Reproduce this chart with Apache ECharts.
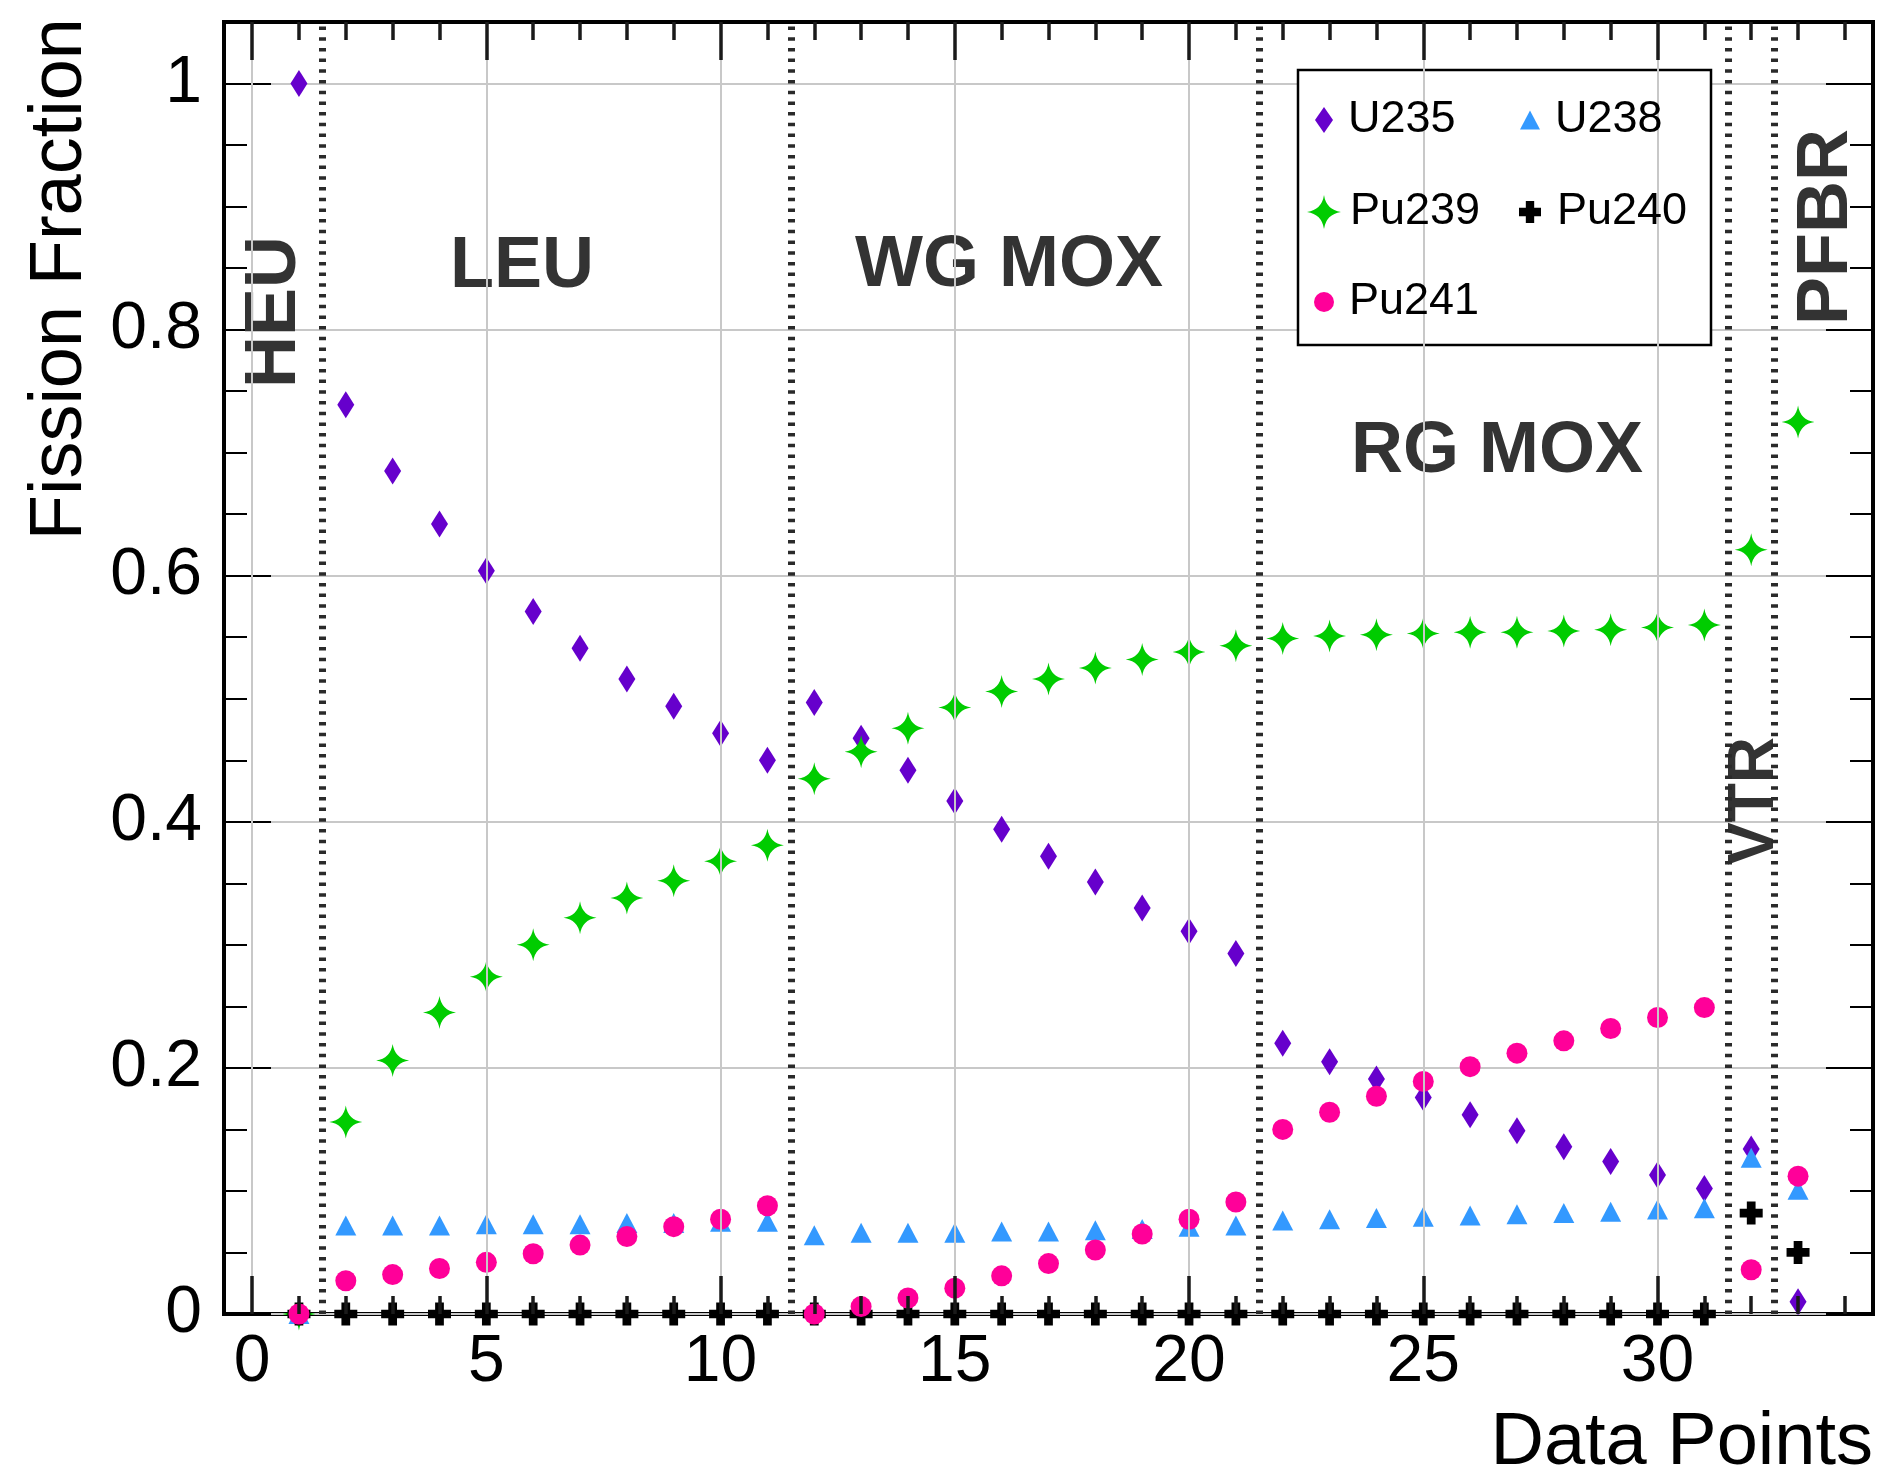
<!DOCTYPE html>
<html>
<head>
<meta charset="utf-8">
<title>Fission Fraction vs Data Points</title>
<script src="https://cdn.jsdelivr.net/npm/echarts@6/dist/echarts.min.js"></script>
<style>
html, body { margin: 0; padding: 0; background: #fff; }
#chart { width: 1880px; height: 1478px; }
</style>
</head>
<body>
<div id="chart"></div>
<script>
// data points 1..33 (HEU, LEU, WG MOX, RG MOX, VTR, PFBR)
const dataPoints = [1, 2, 3, 4, 5, 6, 7, 8, 9, 10, 11, 12, 13, 14, 15, 16, 17,
  18, 19, 20, 21, 22, 23, 24, 25, 26, 27, 28, 29, 30, 31, 32, 33];

const u235 = [1.000, 0.739, 0.685, 0.642, 0.604, 0.571, 0.541, 0.516, 0.494, 0.472, 0.450,
  0.497, 0.468, 0.442, 0.417, 0.394, 0.372, 0.351, 0.330, 0.311, 0.293,
  0.220, 0.205, 0.191, 0.176, 0.162, 0.149, 0.136, 0.124, 0.113, 0.102,
  0.134, 0.010];
const u238 = [0.000, 0.072, 0.072, 0.072, 0.073, 0.073, 0.073, 0.074, 0.074, 0.075, 0.075,
  0.064, 0.066, 0.066, 0.066, 0.067, 0.067, 0.068, 0.069, 0.071, 0.072,
  0.076, 0.077, 0.078, 0.079, 0.080, 0.081, 0.082, 0.083, 0.085, 0.086,
  0.127, 0.101];
const pu239 = [0.000, 0.156, 0.206, 0.245, 0.274, 0.300, 0.322, 0.338, 0.352, 0.368, 0.381,
  0.435, 0.457, 0.476, 0.493, 0.506, 0.516, 0.525, 0.532, 0.538, 0.543,
  0.549, 0.551, 0.552, 0.553, 0.554, 0.554, 0.555, 0.556, 0.558, 0.560,
  0.621, 0.725];
const pu240 = [0, 0, 0, 0, 0, 0, 0, 0, 0, 0, 0,
  0, 0, 0, 0, 0, 0, 0, 0, 0, 0,
  0, 0, 0, 0, 0, 0, 0, 0, 0, 0,
  0.082, 0.050];
const pu241 = [0.000, 0.027, 0.032, 0.037, 0.042, 0.049, 0.056, 0.063, 0.071, 0.077, 0.088,
  0.000, 0.006, 0.013, 0.021, 0.031, 0.041, 0.052, 0.065, 0.077, 0.091,
  0.150, 0.164, 0.177, 0.189, 0.201, 0.212, 0.222, 0.232, 0.241, 0.249,
  0.036, 0.112];

// dotted separators between reactor groups
const boundaries = [1.5, 11.5, 21.5, 31.5, 32.5];

// tick labels
const xMajorTicks = [0, 5, 10, 15, 20, 25, 30];
const xMinorTicks = [1, 2, 3, 4, 6, 7, 8, 9, 11, 12, 13, 14, 16, 17, 18, 19,
  21, 22, 23, 24, 26, 27, 28, 29, 31, 32, 33, 34];
const yMajorTicks = [0, 0.2, 0.4, 0.6, 0.8, 1];
const yMinorTicks = [0.05, 0.1, 0.15, 0.25, 0.3, 0.35, 0.45, 0.5, 0.55,
  0.65, 0.7, 0.75, 0.85, 0.9, 0.95];

const FONT = "'Liberation Sans', Arial, Helvetica, sans-serif";
const STAR = 'path://M0,-10 Q1.3,-1.3 10,0 Q1.3,1.3 0,10 Q-1.3,1.3 -10,0 Q-1.3,-1.3 0,-10 Z';
const CROSS = 'path://M-3.8,-10 L3.8,-10 L3.8,-3.8 L10,-3.8 L10,3.8 L3.8,3.8 L3.8,10 L-3.8,10 L-3.8,3.8 L-10,3.8 L-10,-3.8 L-3.8,-3.8 Z';

function pairs(vals) {
  return dataPoints.map(function (x, i) { return [x, vals[i]]; });
}

// ROOT style frame: ticks drawn inside on all four sides
function xAxisDef(pos, ticks, len, main) {
  return {
    type: 'value', position: pos, min: -0.6, max: 34.6, z: 8,
    axisLine: { show: false, onZero: false },
    axisTick: { show: true, inside: true, length: len, customValues: ticks,
      lineStyle: { color: '#1a1a1a', width: 3.5 } },
    axisLabel: main ? { show: true, customValues: ticks, fontSize: 66, color: '#000',
      fontFamily: FONT, margin: 16 } : { show: false },
    splitLine: main ? { show: true, lineStyle: { color: '#c8c8c8', width: 2 } } : { show: false }
  };
}
function yAxisDef(pos, ticks, len, main) {
  return {
    type: 'value', position: pos, min: 0, max: 1.05,
    axisLine: { show: false, onZero: false },
    axisTick: { show: true, inside: true, length: len, customValues: ticks,
      lineStyle: { color: '#000', width: 2 } },
    axisLabel: main ? { show: true, customValues: ticks, fontSize: 66, color: '#000',
      fontFamily: FONT, margin: 22 } : { show: false },
    splitLine: main ? { show: true, lineStyle: { color: '#c8c8c8', width: 2 } } : { show: false }
  };
}

function legendItem(name, icon, left, top, w, h, pad) {
  return {
    show: true, orient: 'horizontal', left: left, top: top, padding: 0,
    itemWidth: w, itemHeight: h, selectedMode: false, symbolKeepAspect: false, z: 10,
    data: [{ name: name, icon: icon }],
    textStyle: { fontSize: 45, color: '#000', fontFamily: FONT, lineHeight: 50,
      padding: [0, 0, 0, pad] }
  };
}

function regionText(txt, x, y, rot, size) {
  return {
    type: 'text', x: x, y: y, rotation: rot ? Math.PI / 2 : 0, z: 3, silent: true,
    style: { text: txt, fontSize: size || 72, fontWeight: 'bold', fontFamily: FONT,
      fill: '#333', align: 'center', verticalAlign: 'middle' }
  };
}

var myChart = echarts.init(document.getElementById('chart'), null, { renderer: 'canvas' });
var option = {
  backgroundColor: '#fff',
  animation: false,
  grid: { left: 224, top: 22, width: 1649, height: 1292, show: true,
    borderColor: '#000', borderWidth: 4, backgroundColor: 'transparent' },
  xAxis: [
    xAxisDef('bottom', xMajorTicks, 38, true),
    xAxisDef('top', xMajorTicks, 38, false),
    xAxisDef('bottom', xMinorTicks, 18, false),
    xAxisDef('top', xMinorTicks, 18, false)
  ],
  yAxis: [
    yAxisDef('left', yMajorTicks, 47, true),
    yAxisDef('right', yMajorTicks, 47, false),
    yAxisDef('left', yMinorTicks, 23, false),
    yAxisDef('right', yMinorTicks, 23, false)
  ],
  legend: [
    legendItem('U235', 'diamond', 1315, 95, 18, 26, 10),
    legendItem('Pu239', STAR, 1307, 187, 34, 34, 4),
    legendItem('Pu241', 'circle', 1314, 277, 20, 20, 10),
    legendItem('U238', 'triangle', 1520, 95, 20, 19, 10),
    legendItem('Pu240', CROSS, 1519, 187, 22, 22, 11)
  ],
  graphic: [
    { type: 'rect', z: 3, silent: true,
      shape: { x: 1298, y: 70, width: 413, height: 275 },
      style: { fill: '#fff', stroke: '#000', lineWidth: 2.5 } },
    regionText('HEU', 275, 312, true),
    regionText('LEU', 522, 267, false),
    regionText('WG MOX', 1009, 266, false),
    regionText('RG MOX', 1497, 452, false),
    regionText('VTR', 1755, 801, true, 64),
    regionText('PFBR', 1827, 227, true),
    { type: 'text', x: 61, y: 18, rotation: Math.PI / 2, silent: true,
      style: { text: 'Fission Fraction', fontSize: 74, fontFamily: FONT, fill: '#000',
        align: 'right', verticalAlign: 'middle' } },
    { type: 'text', x: 1873, y: 1444, silent: true,
      style: { text: 'Data Points', fontSize: 74, fontFamily: FONT, fill: '#000',
        align: 'right', verticalAlign: 'middle' } }
  ],
  series: [
    {
      name: 'U235', type: 'scatter', clip: false,
      symbol: 'diamond', symbolSize: [17, 27],
      itemStyle: { color: '#6600cc', opacity: 1 },
      data: pairs(u235),
      markLine: {
        silent: true, symbol: 'none', animation: false,
        label: { show: false },
        lineStyle: { color: '#2a2a2a', width: 7, type: [3.5, 7.2], opacity: 1 },
        emphasis: { disabled: true },
        data: boundaries.map(function (b) { return { xAxis: b }; })
      }
    },
    {
      name: 'U238', type: 'scatter', clip: false,
      symbol: 'triangle', symbolSize: [21, 20],
      itemStyle: { color: '#3399ff', opacity: 1 },
      data: pairs(u238)
    },
    {
      name: 'Pu239', type: 'scatter', clip: false,
      symbol: STAR, symbolSize: 33, symbolKeepAspect: false,
      itemStyle: { color: '#00cc00', opacity: 1 },
      data: pairs(pu239)
    },
    {
      name: 'Pu240', type: 'scatter', clip: false,
      symbol: CROSS, symbolSize: 23, symbolKeepAspect: false,
      itemStyle: { color: '#000', opacity: 1 },
      data: pairs(pu240)
    },
    {
      name: 'Pu241', type: 'scatter', clip: false,
      symbol: 'circle', symbolSize: 21,
      itemStyle: { color: '#ff0099', opacity: 1 },
      data: pairs(pu241)
    }
  ]
};
myChart.setOption(option);
</script>
</body>
</html>
